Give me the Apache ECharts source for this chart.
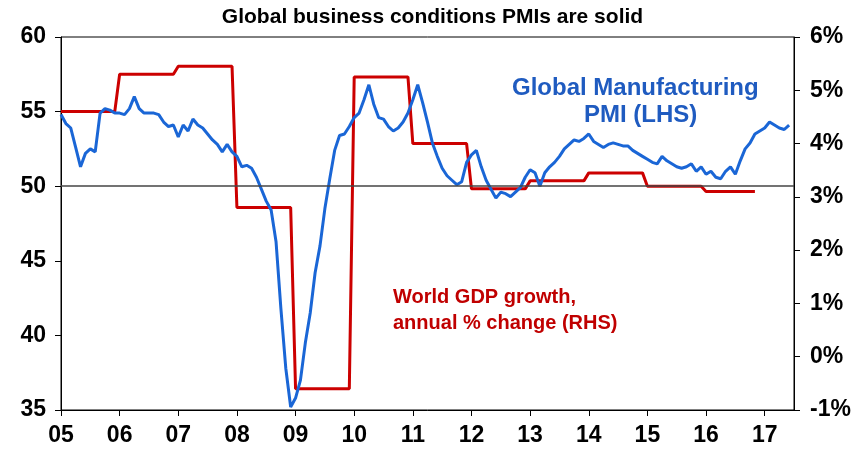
<!DOCTYPE html>
<html>
<head>
<meta charset="utf-8">
<script src="https://cdn.jsdelivr.net/npm/echarts@6/dist/echarts.min.js"></script>
<style>html,body{margin:0;padding:0;background:#fff}#c{width:865px;height:459px}</style>
</head>
<body>
<div id="c"></div>
<script>
// Global Manufacturing PMI, monthly Jan 2005 - Jun 2017
const pmi = [
  54.8,54.2,53.9,52.6,51.3,52.2,52.5,52.3,54.9,55.2,55.1,54.9,
  54.9,54.8,55.2,56.0,55.2,54.9,54.9,54.9,54.8,54.3,54.0,54.1,
  53.3,54.1,53.7,54.5,54.1,53.9,53.5,53.1,52.8,52.3,52.8,52.3,
  52.0,51.3,51.4,51.2,50.6,49.8,49.0,48.4,46.3,41.8,37.8,35.2,
  35.8,37.0,39.5,41.5,44.2,46.0,48.5,50.5,52.4,53.4,53.5,54.0,
  54.6,54.9,55.8,56.8,55.5,54.6,54.5,54.0,53.7,53.9,54.3,54.9,
  55.8,56.8,55.6,54.3,52.9,52.0,51.2,50.7,50.4,50.1,50.3,51.6,
  52.1,52.4,51.3,50.4,49.8,49.2,49.6,49.5,49.3,49.6,49.9,50.6,
  51.1,50.9,50.0,50.9,51.3,51.6,52.0,52.5,52.8,53.1,53.0,53.2,
  53.5,53.0,52.8,52.6,52.8,52.9,52.8,52.7,52.7,52.4,52.2,52.0,
  51.8,51.6,51.5,52.0,51.7,51.5,51.3,51.2,51.3,51.5,51.0,51.3,
  50.8,51.0,50.6,50.5,51.0,51.3,50.8,51.7,52.5,52.9,53.5,53.7,
  53.9,54.3,54.1,53.9,53.8,54.1
];
// World GDP growth, annual % change, 2005 - 2016
const gdpYears = [2005,2006,2007,2008,2009,2010,2011,2012,2013,2014,2015,2016];
const gdpValues = [4.6,5.3,5.45,2.8,-0.6,5.25,4.0,3.15,3.3,3.45,3.2,3.1];
const gdpLastMonth = 10; // data shown through Nov 2016
const startYear = 2005, endYear = 2017, endMonth = 6; // axis runs to Jul 2017
const leftTicks = {min:35, max:60, interval:5};
const rightTicks = {min:-1, max:6, interval:1};

const categories = [];
for (let y = startYear; y <= endYear; y++) {
  for (let m = 0; m < 12; m++) {
    if (y === endYear && m > endMonth) break;
    categories.push(y + '-' + String(m + 1).padStart(2, '0'));
  }
}
const gdpMonthly = categories.map(c => {
  const y = +c.slice(0, 4), m = +c.slice(5) - 1;
  const i = gdpYears.indexOf(y);
  if (i < 0) return null;
  if (y === gdpYears[gdpYears.length - 1] && m > gdpLastMonth) return null;
  return gdpValues[i];
});

const FONT = 'Liberation Sans, Arial, sans-serif';
const chart = echarts.init(document.getElementById('c'));
const isJan = (idx) => idx % 12 === 0;
chart.setOption({
  animation: false,
  backgroundColor: '#fff',
  title: {
    text: 'Global business conditions PMIs are solid',
    left: 'center', top: 2,
    textStyle: {fontFamily: FONT, fontSize: 21, fontWeight: 'bold', color: '#000'}
  },
  grid: {left: 61, right: 71, top: 37, bottom: 49, show: true, borderColor: '#000', borderWidth: 1},
  xAxis: {
    type: 'category', data: categories, boundaryGap: false,
    axisLine: {onZero: false, lineStyle: {color: '#000', width: 1}},
    axisTick: {interval: (i) => isJan(i), length: 6, lineStyle: {color: '#000'}},
    axisLabel: {
      interval: (i) => isJan(i), margin: 14,
      formatter: (v) => v.slice(2, 4),
      fontFamily: FONT, fontSize: 23, fontWeight: 'bold', color: '#000'
    },
    splitLine: {show: false}
  },
  yAxis: [
    {
      type: 'value', min: leftTicks.min, max: leftTicks.max, interval: leftTicks.interval,
      axisLine: {show: true, lineStyle: {color: '#000'}},
      axisTick: {show: true, length: 6, lineStyle: {color: '#000'}},
      axisLabel: {margin: 15, fontFamily: FONT, fontSize: 23, fontWeight: 'bold', color: '#000'},
      splitLine: {show: false}
    },
    {
      type: 'value', min: rightTicks.min, max: rightTicks.max, interval: rightTicks.interval,
      position: 'right',
      axisLine: {show: true, lineStyle: {color: '#000'}},
      axisTick: {show: true, length: 6, lineStyle: {color: '#000'}},
      axisLabel: {margin: 16, formatter: '{value}%', fontFamily: FONT, fontSize: 23, fontWeight: 'bold', color: '#000'},
      splitLine: {show: false}
    }
  ],
  series: [
    {
      name: 'World GDP growth', type: 'line', yAxisIndex: 1, data: gdpMonthly,
      showSymbol: false, lineStyle: {color: '#cc0000', width: 3}, z: 2
    },
    {
      name: 'Global Manufacturing PMI', type: 'line', yAxisIndex: 0, data: pmi,
      showSymbol: false, lineStyle: {color: '#1a66d6', width: 3}, z: 3,
      markLine: {
        silent: true, symbol: 'none', label: {show: false},
        lineStyle: {color: '#444', width: 1.5, type: 'solid'},
        data: [{yAxis: 50}]
      }
    }
  ],
  graphic: [
    {type: 'text', left: 512, top: 76, style: {text: 'Global Manufacturing', fill: '#1f5bc0', font: 'bold 24px ' + FONT}},
    {type: 'text', left: 584, top: 103, style: {text: 'PMI (LHS)', fill: '#1f5bc0', font: 'bold 24px ' + FONT}},
    {type: 'text', left: 393, top: 287, style: {text: 'World GDP growth,', fill: '#c00000', font: 'bold 20px ' + FONT}},
    {type: 'text', left: 393, top: 313, style: {text: 'annual % change (RHS)', fill: '#c00000', font: 'bold 20px ' + FONT}}
  ]
});
</script>
</body>
</html>
